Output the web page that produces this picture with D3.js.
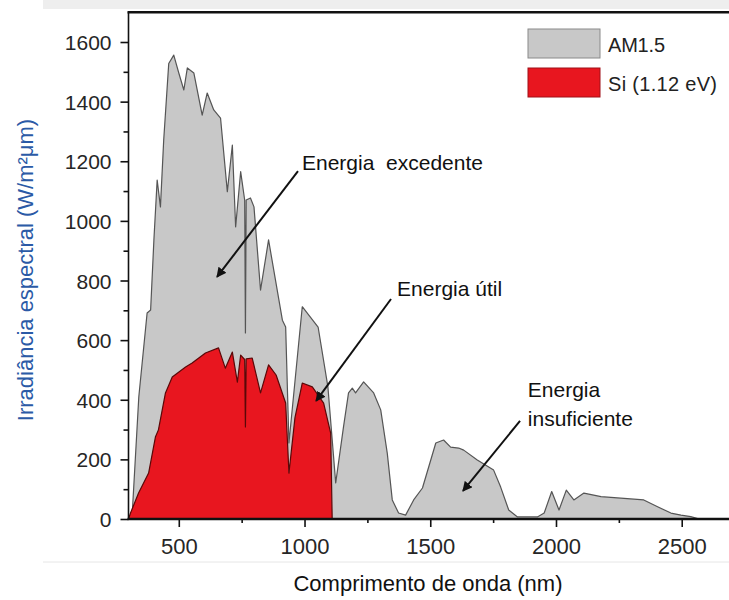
<!DOCTYPE html>
<html>
<head>
<meta charset="utf-8">
<script src="https://cdn.jsdelivr.net/npm/d3@7"></script>
<style>
  body { margin: 0; background: #fff; }
  svg { display: block; }
  text { font-family: "Liberation Sans", Arial, Helvetica, sans-serif; }
</style>
</head>
<body>
<svg id="chart" width="729" height="600"></svg>
<script>
// AM1.5 solar spectrum (nm, W/m²μm)
const am15Wavelength = [300, 315, 341, 374, 388, 401, 414, 427, 440, 460, 480, 500, 520, 534, 560, 593, 613, 639, 666, 693, 713, 726, 746, 762, 765, 768, 785, 799, 825, 857, 912, 925, 938, 991, 1054, 1093, 1124, 1155, 1175, 1190, 1203, 1235, 1275, 1303, 1329, 1349, 1374, 1402, 1434, 1469, 1502, 1522, 1553, 1581, 1613, 1633, 1687, 1752, 1780, 1812, 1847, 1926, 1953, 1983, 2012, 2041, 2071, 2111, 2179, 2349, 2404, 2457, 2497, 2536, 2570];
const am15Irradiance = [0, 20, 410, 691, 701, 936, 1137, 1047, 1271, 1528, 1556, 1496, 1439, 1513, 1496, 1355, 1429, 1372, 1345, 1098, 1254, 980, 1165, 1070, 624, 1070, 1077, 1047, 768, 936, 667, 644, 255, 712, 644, 443, 121, 309, 423, 439, 423, 460, 423, 366, 221, 64, 20, 13, 64, 104, 198, 255, 265, 241, 238, 231, 198, 164, 107, 30, 7, 7, 20, 92, 30, 97, 64, 87, 75, 64, 41, 20, 13, 8, 0];

// Portion usable by a silicon cell (band gap 1.12 eV)
const siWavelength = [300, 308, 340, 380, 407, 419, 447, 474, 527, 553, 606, 658, 685, 713, 733, 746, 762, 765, 768, 792, 825, 857, 887, 925, 938, 962, 991, 1031, 1076, 1104, 1110];
const siIrradiance = [0, 20, 87, 154, 275, 299, 423, 476, 510, 523, 557, 574, 506, 560, 459, 550, 535, 309, 537, 540, 423, 517, 483, 389, 154, 340, 456, 443, 389, 288, 0];

const yMajorTicks = [0, 200, 400, 600, 800, 1000, 1200, 1400, 1600];
const yMinorTicks = [100, 300, 500, 700, 900, 1100, 1300, 1500];
const xMajorTicks = [500, 1000, 1500, 2000, 2500];
const xMinorTicks = [750, 1250, 1750, 2250];

const seriesNames = ["AM1.5", "Si (1.12 eV)"];
const seriesFill = ["#c8c8c8", "#e8161f"];
const seriesStroke = ["#555555", "#5a0808"];

// Labels with arrows, in data units (nm, W/m²μm)
const noteLines = [["Energia\u00a0\u00a0excedente"], ["Energia útil"], ["Energia", "insuficiente"]];
const noteAt = [[990, 1171], [1368, 748], [1888, 409]];
const arrowFrom = [[974, 1167], [1344, 738], [1857, 329]];
const arrowTo = [[652, 812], [1046, 396], [1630, 94]];

const svg = d3.select("#chart");

const x = d3.scaleLinear().domain([300, 2690]).range([128.5, 729.5]);
const y = d3.scaleLinear().domain([0, 1700]).range([519, 12.2]);

// faint band and rule around the frame
svg.append("rect").attr("x", 43).attr("y", 0).attr("width", 686).attr("height", 9).attr("fill", "#eeeeee");
svg.append("line").attr("x1", 43).attr("x2", 729).attr("y1", 562).attr("y2", 562)
  .attr("stroke", "#e6e6e6").attr("stroke-width", 1);

const am15 = am15Wavelength.map((w, i) => [w, am15Irradiance[i]]);
const si = siWavelength.map((w, i) => [w, siIrradiance[i]]);

const area = d3.area().x(d => x(d[0])).y0(y(0)).y1(d => y(d[1]));

[am15, si].forEach((data, i) => {
  svg.append("path").datum(data).attr("d", area)
    .attr("fill", seriesFill[i]).attr("stroke", seriesStroke[i])
    .attr("stroke-width", 1.2).attr("stroke-linejoin", "round");
});

// axes
const tickStyle = g => {
  g.select(".domain").remove();
  g.selectAll(".tick line").attr("stroke", "#111").attr("stroke-width", 1.6);
  g.selectAll(".tick text").attr("fill", "#262626").style("font-family", "'Liberation Sans', Arial, sans-serif");
};

svg.append("g").attr("transform", `translate(${x(300)},0)`)
  .call(d3.axisLeft(y).tickValues(yMajorTicks).tickSize(8).tickPadding(9).tickFormat(d3.format("d")))
  .call(tickStyle)
  .call(g => g.selectAll(".tick text").style("font-size", "21px").attr("dy", "0.36em"));
svg.append("g").attr("transform", `translate(${x(300)},0)`)
  .call(d3.axisLeft(y).tickValues(yMinorTicks).tickSize(5).tickFormat(""))
  .call(tickStyle);

svg.append("g").attr("transform", `translate(0,${y(0)})`)
  .call(d3.axisBottom(x).tickValues(xMajorTicks).tickSize(8).tickPadding(11).tickFormat(d3.format("d")))
  .call(tickStyle)
  .call(g => g.selectAll(".tick text").style("font-size", "22px"));
svg.append("g").attr("transform", `translate(0,${y(0)})`)
  .call(d3.axisBottom(x).tickValues(xMinorTicks).tickSize(4).tickFormat(""))
  .call(tickStyle);

// frame: left spine, top rule, baseline
svg.append("line").attr("x1", x(300)).attr("x2", x(300)).attr("y1", y(1700)).attr("y2", y(0))
  .attr("stroke", "#111").attr("stroke-width", 1.6);
svg.append("line").attr("x1", x(300) - 1).attr("x2", 729).attr("y1", y(1700)).attr("y2", y(1700))
  .attr("stroke", "#111").attr("stroke-width", 2.6);
svg.append("line").attr("x1", x(300) - 1).attr("x2", 729).attr("y1", y(0)).attr("y2", y(0))
  .attr("stroke", "#111").attr("stroke-width", 2.6);

// axis titles
svg.append("text").attr("transform", "translate(33,270) rotate(-90)")
  .attr("text-anchor", "middle").attr("fill", "#2b5aa6").style("font-size", "22px")
  .text("Irradiância espectral (W/m²μm)");
svg.append("text").attr("x", 428).attr("y", 591).attr("text-anchor", "middle")
  .attr("fill", "#111").style("font-size", "22px").text("Comprimento de onda (nm)");

// legend
const legend = svg.append("g");
seriesNames.forEach((name, i) => {
  const top = [29, 68][i];
  legend.append("rect").attr("x", 528).attr("y", top).attr("width", 72).attr("height", 29)
    .attr("fill", seriesFill[i]).attr("stroke", i ? "#a01018" : "#8a8a8a").attr("stroke-width", 1);
  legend.append("text").attr("x", 608).attr("y", top + 23).attr("fill", "#222")
    .style("font-size", "20px").attr("textLength", i ? 109 : 57).text(name);
});

// annotation arrows
const defs = svg.append("defs");
defs.append("marker").attr("id", "head").attr("viewBox", "0 0 10 10")
  .attr("refX", 9).attr("refY", 5).attr("markerWidth", 5).attr("markerHeight", 5)
  .attr("orient", "auto").attr("markerUnits", "strokeWidth")
  .append("path").attr("d", "M0,0 L10,5 L0,10 Z").attr("fill", "#111");

arrowFrom.forEach((p, i) => {
  svg.append("line")
    .attr("x1", x(p[0])).attr("y1", y(p[1]))
    .attr("x2", x(arrowTo[i][0])).attr("y2", y(arrowTo[i][1]))
    .attr("stroke", "#111").attr("stroke-width", 2).attr("marker-end", "url(#head)");
});

noteLines.forEach((lines, i) => {
  const t = svg.append("text").attr("x", x(noteAt[i][0])).attr("y", y(noteAt[i][1]))
    .attr("fill", "#111").style("font-size", "21px");
  lines.forEach((ln, j) => {
    t.append("tspan").attr("x", x(noteAt[i][0])).attr("dy", j ? 29 : 0).text(ln);
  });
});
</script>
</body>
</html>
